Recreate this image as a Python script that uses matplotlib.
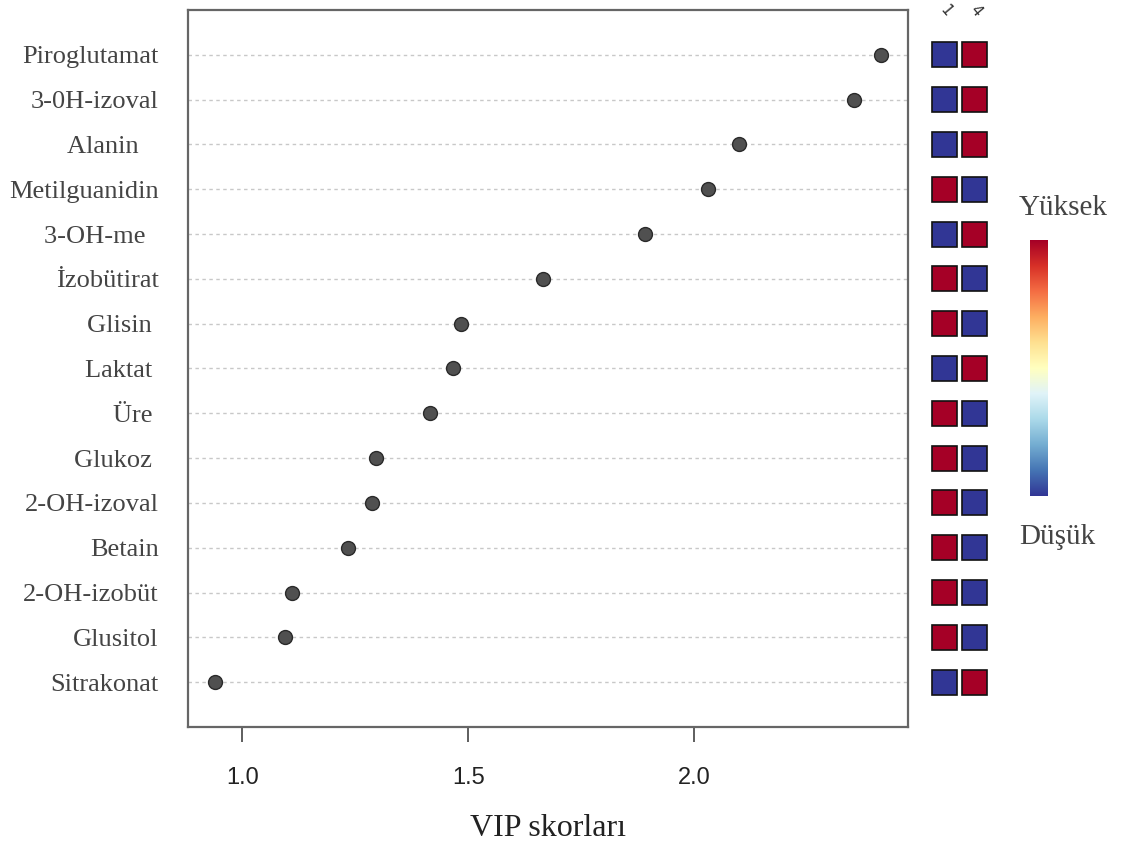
import numpy as np
import matplotlib
matplotlib.use("Agg")
import matplotlib.pyplot as plt
import matplotlib.patches as mpatches
from matplotlib.colors import Normalize
from matplotlib.colorbar import ColorbarBase

# ── data ─────────────────────────────────────────────────────────────
metabolites = ["Piroglutamat", "3-0H-izoval", "Alanin   ", "Metilguanidin",
               "3-OH-me  ", "İzobütirat", "Glisin ", "Laktat ", "Üre ",
               "Glukoz ", "2-OH-izoval", "Betain", "2-OH-izobüt",
               "Glusitol", "Sitrakonat"]
vip_scores = [2.414, 2.354, 2.100, 2.031, 1.892, 1.666, 1.485, 1.467,
              1.416, 1.296, 1.288, 1.235, 1.111, 1.095, 0.940]
group_labels = ["1", "4"]
# 1 = yüksek (red), 0 = düşük (blue)
group1 = [0, 0, 0, 1, 0, 1, 1, 0, 1, 1, 1, 1, 1, 1, 0]
group4 = [1, 1, 1, 0, 1, 0, 0, 1, 0, 0, 0, 0, 0, 0, 1]
xticks = [1.0, 1.5, 2.0]

W, H = 1133, 855
cmap = plt.get_cmap("RdYlBu_r")
serif = ["Liberation Serif", "DejaVu Serif"]
txt_col = "#444444"

fig = plt.figure(figsize=(W / 100, H / 100), dpi=100)

def fax(x0, y0, x1, y1):
    # pixel box -> figure axes
    return fig.add_axes([x0 / W, 1 - y1 / H, (x1 - x0) / W, (y1 - y0) / H])

n = len(metabolites)
rows = np.arange(n)

# ── main dot plot ────────────────────────────────────────────────────
ax = fax(188, 10, 908, 727)
ax.set_xlim(0.880, 2.473)
ax.set_ylim(n, -1)
for r in rows:
    ax.axhline(r, color="#c8c8c8", lw=1.0, ls=(0, (2.5, 2.5)), zorder=1)
ax.scatter(vip_scores, rows, s=100, color="#505050", edgecolors="#2a2a2a",
           linewidths=1.0, zorder=3)

ax.set_yticks(rows)
ax.set_yticklabels(metabolites, family=serif, fontsize=19, color=txt_col)
ax.tick_params(axis="y", length=0, pad=21)
ax.set_xticks(xticks)
ax.set_xticklabels([f"{t:.1f}" for t in xticks], family="Liberation Sans",
                   fontsize=17, color="#222222")
ax.tick_params(axis="x", length=11, width=1.1, color="#333333", pad=18)
ax.set_xlabel("VIP skorları", family=serif, fontsize=23, color="#222222",
              labelpad=18)
for sp in ax.spines.values():
    sp.set_color("#666666")
    sp.set_linewidth(1.6)

# ── group squares ────────────────────────────────────────────────────
hx = fax(928, 10, 992, 727)
hx.set_xlim(-0.55, 1.58)
hx.set_ylim(n, -1)
hx.axis("off")
for c, vals in enumerate([group1, group4]):
    for r, v in zip(rows, vals):
        hx.add_patch(mpatches.Rectangle((c - 0.41, r - 0.28), 0.82, 0.56,
                                        facecolor=cmap(float(v)),
                                        edgecolor="#111111", lw=1.2))
for c, lab in enumerate(group_labels):
    hx.text(c + 0.05, -0.98, lab, rotation=-50, ha="center", va="center",
            fontsize=11, color="#333333", family="DejaVu Sans",
            clip_on=False)

# ── colour key ───────────────────────────────────────────────────────
cx = fax(1030, 240, 1048, 496)
cb = ColorbarBase(cx, cmap=cmap, norm=Normalize(0, 1), orientation="vertical")
cb.set_ticks([])
cb.outline.set_visible(False)
fig.text(1063 / W, 1 - 208 / H, "Yüksek", family=serif, fontsize=21,
         color=txt_col, ha="center", va="center")
fig.text(1057 / W, 1 - 537 / H, "Düşük", family=serif, fontsize=21,
         color=txt_col, ha="center", va="center")

fig.savefig("out.png", dpi=100, facecolor="white")
